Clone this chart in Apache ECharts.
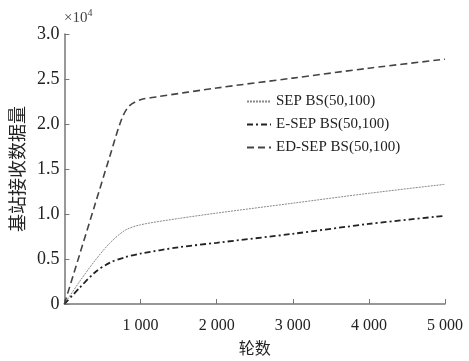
<!DOCTYPE html>
<html>
<head>
<meta charset="utf-8">
<script src="https://cdn.jsdelivr.net/npm/echarts@6/dist/echarts.min.js"></script>
<style>
  html, body { margin: 0; padding: 0; background: #fff; }
  #chart { width: 469px; height: 361px; }
</style>
</head>
<body>
<div id="chart"></div>
<script>
// rounds on x, received data at the base station (raw counts)
const seriesNames = ['SEP BS(50,100)', 'E-SEP BS(50,100)', 'ED-SEP BS(50,100)'];
const xTicks = [0, 1000, 2000, 3000, 4000, 5000];
const yTicks = [0, 5000, 10000, 15000, 20000, 25000, 30000];

const sepX = [0, 200, 400, 600, 800, 1000, 1500, 2000, 3000, 4000, 5000];
const sepY = [0, 2500, 4800, 6800, 8200, 8800, 9500, 10100, 11200, 12300, 13300];

const esepX = [0, 200, 400, 600, 800, 1000, 1500, 2000, 3000, 4000, 5000];
const esepY = [0, 1800, 3500, 4600, 5200, 5600, 6300, 6800, 7800, 8900, 9800];

const edsepX = [0, 200, 400, 600, 750, 850, 1000, 1200, 2000, 3000, 4000, 5000];
const edsepY = [0, 5500, 11000, 16500, 20500, 22000, 22700, 23000, 24000, 25100, 26200, 27200];

const pairs = (xs, ys) => xs.map((x, i) => [x, ys[i]]);

const serif = '"Liberation Serif", "DejaVu Serif", serif';
const cjk = '"Noto Sans CJK SC", sans-serif';
const axisGray = '#777';

const chart = echarts.init(document.getElementById('chart'), null, { renderer: 'canvas' });

chart.setOption({
    animation: false,
    grid: { left: 63, right: 24, top: 34, bottom: 46 },
    legend: {
        orient: 'vertical',
        left: 241,
        top: 89,
        itemWidth: 24,
        itemHeight: 10,
        itemGap: 8,
        itemStyle: { opacity: 0 },
        data: seriesNames,
        textStyle: { fontFamily: serif, fontSize: 15, color: '#222' }
    },
    xAxis: {
        type: 'value',
        min: xTicks[0],
        max: xTicks[xTicks.length - 1],
        interval: 1000,
        name: '轮数',
        nameLocation: 'middle',
        nameGap: 36,
        nameTextStyle: { fontFamily: cjk, fontSize: 16, color: '#222' },
        axisLine: { lineStyle: { color: axisGray, width: 1.5 } },
        axisTick: { inside: true, length: 5, lineStyle: { color: axisGray } },
        splitLine: { show: false },
        axisLabel: {
            fontFamily: serif, fontSize: 16, color: '#222', margin: 14,
            formatter: v => v === 0 ? '' : String(v / 1000) + ' 000'
        }
    },
    yAxis: {
        type: 'value',
        min: yTicks[0],
        max: yTicks[yTicks.length - 1],
        interval: 5000,
        name: '基站接收数据量',
        nameLocation: 'middle',
        nameGap: 36,
        nameTextStyle: { fontFamily: cjk, fontSize: 18, color: '#222' },
        axisLine: { show: true, lineStyle: { color: axisGray, width: 1.5 } },
        axisTick: { show: true, inside: true, length: 5, lineStyle: { color: axisGray } },
        splitLine: { show: false },
        axisLabel: {
            fontFamily: serif, fontSize: 18, color: '#222', margin: 5,
            formatter: v => v === 0 ? '0' : (v / 10000).toFixed(1)
        }
    },
    graphic: [{
        type: 'text',
        left: 64,
        top: 8,
        style: {
            text: '{a|×10}{b|4}',
            rich: {
                a: { fontFamily: serif, fontSize: 15, fill: '#444', verticalAlign: 'bottom' },
                b: { fontFamily: serif, fontSize: 10, fill: '#444', verticalAlign: 'top', padding: [0, 0, 8, 0] }
            }
        }
    }],
    series: [
        {
            name: seriesNames[0],
            type: 'line',
            smooth: 0.3,
            symbol: 'none',
            color: '#888',
            data: pairs(sepX, sepY),
            lineStyle: { color: '#888', width: 1, type: [2, 1] }
        },
        {
            name: seriesNames[1],
            type: 'line',
            smooth: 0.3,
            symbol: 'none',
            color: '#222',
            data: pairs(esepX, esepY),
            lineStyle: { color: '#222', width: 1.8, type: [6, 3, 2, 3] }
        },
        {
            name: seriesNames[2],
            type: 'line',
            smooth: 0.3,
            symbol: 'none',
            color: '#444',
            data: pairs(edsepX, edsepY),
            lineStyle: { color: '#444', width: 1.6, type: [7, 4] }
        }
    ]
});
</script>
</body>
</html>
